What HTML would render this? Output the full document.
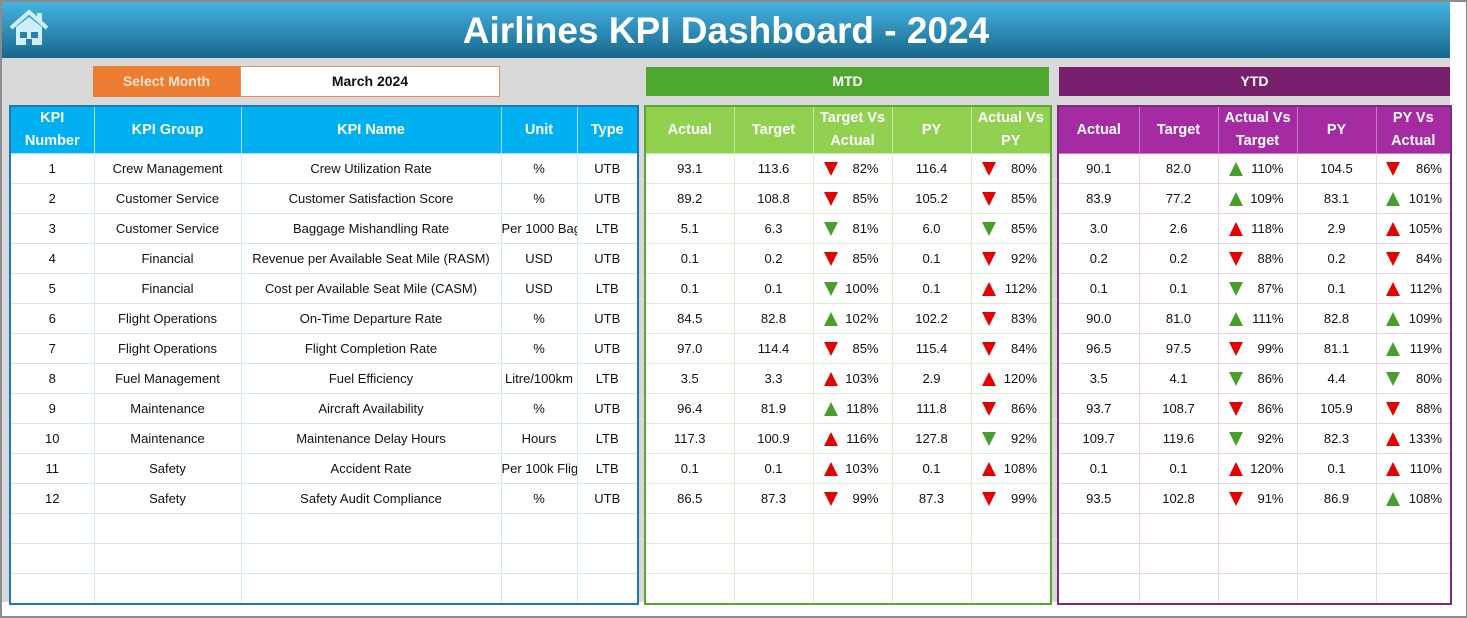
<!DOCTYPE html>
<html><head><meta charset="utf-8"><style>
*{margin:0;padding:0;box-sizing:border-box}
body{width:1467px;height:618px;background:#fff;font-family:"Liberation Sans",sans-serif;position:relative;overflow:hidden}
.frame{position:absolute;left:0;top:0;width:1467px;height:618px;border:2px solid #8c8c8c;border-right:1px solid #8c8c8c}
.gray{position:absolute;left:2px;top:58px;width:1448px;height:544px;background:#d9d9d9}
.hdr{position:absolute;left:2px;top:2px;width:1448px;height:56px;background:linear-gradient(#45b3e0,#1c6f95 90%,#1a6488);color:#fff;font-family:"Liberation Sans",sans-serif;font-weight:bold;font-size:37px;text-align:center;line-height:58px}
.box{position:absolute;font-family:"Liberation Sans",sans-serif;font-weight:bold;font-size:14px;text-align:center}
table{position:absolute;border-collapse:collapse;table-layout:fixed;background:#fff;font-size:13px;color:#111}
td,th{height:30px;text-align:center;white-space:nowrap;overflow:hidden;padding:0}
th{height:45px;color:#fff;font-weight:bold;font-size:14.5px;line-height:23px}
#L{left:9px;top:105px;border:2px solid #1e78b4}
#L td{border:1px solid #cfe8f2}
#L th{background:#00b0f0;border:1px solid #a7dff5}
#M{left:644px;top:105px;border:2px solid #5aa832}
#M td{border:1px solid #dcefd0}
#M th{background:#92d050;border:1px solid #c4e6a6}
#Y{left:1057px;top:105px;border:2px solid #7a2b7b}
#Y td{border:1px solid #ead5ea}
#Y th{background:#a52ba3;border:1px solid #c97ac7}
.a{display:flex;align-items:center;justify-content:space-between;padding:0 13px 0 10px}
#Y td:last-child .a{padding:0 8px 0 9px}
.d,.u{display:inline-block;width:0;height:0;border-left:7px solid transparent;border-right:7px solid transparent}
.d{border-top:14px solid}
.u{border-bottom:14px solid}
.r{border-top-color:#e60000;border-bottom-color:#e60000}
.g{border-top-color:#4a9e2e;border-bottom-color:#4a9e2e}
</style></head><body>
<div class="frame"></div>
<div class="gray"></div>
<div class="hdr">Airlines KPI Dashboard - 2024</div>
<svg style="position:absolute;left:8px;top:8px" width="42" height="40" viewBox="0 0 42 40"><path d="M3 20 L21 4 L39 20" fill="none" stroke="#cfeefc" stroke-width="4"/><rect x="29" y="5" width="5" height="9" fill="#cfeefc"/><path d="M8 19 L21 9 L34 19 V37 H8Z" fill="#cfeefc"/><rect x="12" y="24" width="7" height="6" fill="#2a7fa8"/><rect x="23" y="24" width="7" height="6" fill="#2a7fa8"/><rect x="18" y="31" width="6" height="6" fill="#2a7fa8"/></svg>
<div class="box" style="left:93px;top:66px;width:147px;height:31px;line-height:31px;background:#ed7d31;color:#fde3cf">Select Month</div>
<div class="box" style="left:240px;top:66px;width:260px;height:31px;line-height:29px;background:#fff;border:1px solid #e5915a;color:#111">March 2024</div>
<div class="box" style="left:646px;top:67px;width:403px;height:29px;line-height:29px;background:#4ea72e;color:#fff">MTD</div>
<div class="box" style="left:1059px;top:67px;width:391px;height:29px;line-height:29px;background:#78206e;color:#fff">YTD</div>

<table id="L" style="width:630px;height:497px">
<colgroup><col style="width:84px"><col style="width:147px"><col style="width:260px"><col style="width:76px"><col style="width:61px"></colgroup>
<tr><th>KPI<br>Number</th><th>KPI Group</th><th>KPI Name</th><th>Unit</th><th>Type</th></tr>
<tr><td>1</td><td>Crew Management</td><td>Crew Utilization Rate</td><td>%</td><td>UTB</td></tr>
<tr><td>2</td><td>Customer Service</td><td>Customer Satisfaction Score</td><td>%</td><td>UTB</td></tr>
<tr><td>3</td><td>Customer Service</td><td>Baggage Mishandling Rate</td><td>Per 1000 Bags</td><td>LTB</td></tr>
<tr><td>4</td><td>Financial</td><td>Revenue per Available Seat Mile (RASM)</td><td>USD</td><td>UTB</td></tr>
<tr><td>5</td><td>Financial</td><td>Cost per Available Seat Mile (CASM)</td><td>USD</td><td>LTB</td></tr>
<tr><td>6</td><td>Flight Operations</td><td>On-Time Departure Rate</td><td>%</td><td>UTB</td></tr>
<tr><td>7</td><td>Flight Operations</td><td>Flight Completion Rate</td><td>%</td><td>UTB</td></tr>
<tr><td>8</td><td>Fuel Management</td><td>Fuel Efficiency</td><td>Litre/100km</td><td>LTB</td></tr>
<tr><td>9</td><td>Maintenance</td><td>Aircraft Availability</td><td>%</td><td>UTB</td></tr>
<tr><td>10</td><td>Maintenance</td><td>Maintenance Delay Hours</td><td>Hours</td><td>LTB</td></tr>
<tr><td>11</td><td>Safety</td><td>Accident Rate</td><td>Per 100k Flights</td><td>LTB</td></tr>
<tr><td>12</td><td>Safety</td><td>Safety Audit Compliance</td><td>%</td><td>UTB</td></tr>
<tr><td></td><td></td><td></td><td></td><td></td></tr>
<tr><td></td><td></td><td></td><td></td><td></td></tr>
<tr><td></td><td></td><td></td><td></td><td></td></tr>
</table>

<table id="M" style="width:406px;height:497px">
<colgroup><col style="width:89px"><col style="width:79px"><col style="width:79px"><col style="width:79px"><col style="width:80px"></colgroup>
<tr><th>Actual</th><th>Target</th><th>Target Vs<br>Actual</th><th>PY</th><th>Actual Vs<br>PY</th></tr>
<tr><td>93.1</td><td>113.6</td><td><div class="a"><i class="d r"></i>82%</div></td><td>116.4</td><td><div class="a"><i class="d r"></i>80%</div></td></tr>
<tr><td>89.2</td><td>108.8</td><td><div class="a"><i class="d r"></i>85%</div></td><td>105.2</td><td><div class="a"><i class="d r"></i>85%</div></td></tr>
<tr><td>5.1</td><td>6.3</td><td><div class="a"><i class="d g"></i>81%</div></td><td>6.0</td><td><div class="a"><i class="d g"></i>85%</div></td></tr>
<tr><td>0.1</td><td>0.2</td><td><div class="a"><i class="d r"></i>85%</div></td><td>0.1</td><td><div class="a"><i class="d r"></i>92%</div></td></tr>
<tr><td>0.1</td><td>0.1</td><td><div class="a"><i class="d g"></i>100%</div></td><td>0.1</td><td><div class="a"><i class="u r"></i>112%</div></td></tr>
<tr><td>84.5</td><td>82.8</td><td><div class="a"><i class="u g"></i>102%</div></td><td>102.2</td><td><div class="a"><i class="d r"></i>83%</div></td></tr>
<tr><td>97.0</td><td>114.4</td><td><div class="a"><i class="d r"></i>85%</div></td><td>115.4</td><td><div class="a"><i class="d r"></i>84%</div></td></tr>
<tr><td>3.5</td><td>3.3</td><td><div class="a"><i class="u r"></i>103%</div></td><td>2.9</td><td><div class="a"><i class="u r"></i>120%</div></td></tr>
<tr><td>96.4</td><td>81.9</td><td><div class="a"><i class="u g"></i>118%</div></td><td>111.8</td><td><div class="a"><i class="d r"></i>86%</div></td></tr>
<tr><td>117.3</td><td>100.9</td><td><div class="a"><i class="u r"></i>116%</div></td><td>127.8</td><td><div class="a"><i class="d g"></i>92%</div></td></tr>
<tr><td>0.1</td><td>0.1</td><td><div class="a"><i class="u r"></i>103%</div></td><td>0.1</td><td><div class="a"><i class="u r"></i>108%</div></td></tr>
<tr><td>86.5</td><td>87.3</td><td><div class="a"><i class="d r"></i>99%</div></td><td>87.3</td><td><div class="a"><i class="d r"></i>99%</div></td></tr>
<tr><td></td><td></td><td></td><td></td><td></td></tr>
<tr><td></td><td></td><td></td><td></td><td></td></tr>
<tr><td></td><td></td><td></td><td></td><td></td></tr>
</table>

<table id="Y" style="width:393px;height:497px">
<colgroup><col style="width:81px"><col style="width:79px"><col style="width:79px"><col style="width:79px"><col style="width:75px"></colgroup>
<tr><th>Actual</th><th>Target</th><th>Actual Vs<br>Target</th><th>PY</th><th>PY Vs<br>Actual</th></tr>
<tr><td>90.1</td><td>82.0</td><td><div class="a"><i class="u g"></i>110%</div></td><td>104.5</td><td><div class="a"><i class="d r"></i>86%</div></td></tr>
<tr><td>83.9</td><td>77.2</td><td><div class="a"><i class="u g"></i>109%</div></td><td>83.1</td><td><div class="a"><i class="u g"></i>101%</div></td></tr>
<tr><td>3.0</td><td>2.6</td><td><div class="a"><i class="u r"></i>118%</div></td><td>2.9</td><td><div class="a"><i class="u r"></i>105%</div></td></tr>
<tr><td>0.2</td><td>0.2</td><td><div class="a"><i class="d r"></i>88%</div></td><td>0.2</td><td><div class="a"><i class="d r"></i>84%</div></td></tr>
<tr><td>0.1</td><td>0.1</td><td><div class="a"><i class="d g"></i>87%</div></td><td>0.1</td><td><div class="a"><i class="u r"></i>112%</div></td></tr>
<tr><td>90.0</td><td>81.0</td><td><div class="a"><i class="u g"></i>111%</div></td><td>82.8</td><td><div class="a"><i class="u g"></i>109%</div></td></tr>
<tr><td>96.5</td><td>97.5</td><td><div class="a"><i class="d r"></i>99%</div></td><td>81.1</td><td><div class="a"><i class="u g"></i>119%</div></td></tr>
<tr><td>3.5</td><td>4.1</td><td><div class="a"><i class="d g"></i>86%</div></td><td>4.4</td><td><div class="a"><i class="d g"></i>80%</div></td></tr>
<tr><td>93.7</td><td>108.7</td><td><div class="a"><i class="d r"></i>86%</div></td><td>105.9</td><td><div class="a"><i class="d r"></i>88%</div></td></tr>
<tr><td>109.7</td><td>119.6</td><td><div class="a"><i class="d g"></i>92%</div></td><td>82.3</td><td><div class="a"><i class="u r"></i>133%</div></td></tr>
<tr><td>0.1</td><td>0.1</td><td><div class="a"><i class="u r"></i>120%</div></td><td>0.1</td><td><div class="a"><i class="u r"></i>110%</div></td></tr>
<tr><td>93.5</td><td>102.8</td><td><div class="a"><i class="d r"></i>91%</div></td><td>86.9</td><td><div class="a"><i class="u g"></i>108%</div></td></tr>
<tr><td></td><td></td><td></td><td></td><td></td></tr>
<tr><td></td><td></td><td></td><td></td><td></td></tr>
<tr><td></td><td></td><td></td><td></td><td></td></tr>
</table>
</body></html>
